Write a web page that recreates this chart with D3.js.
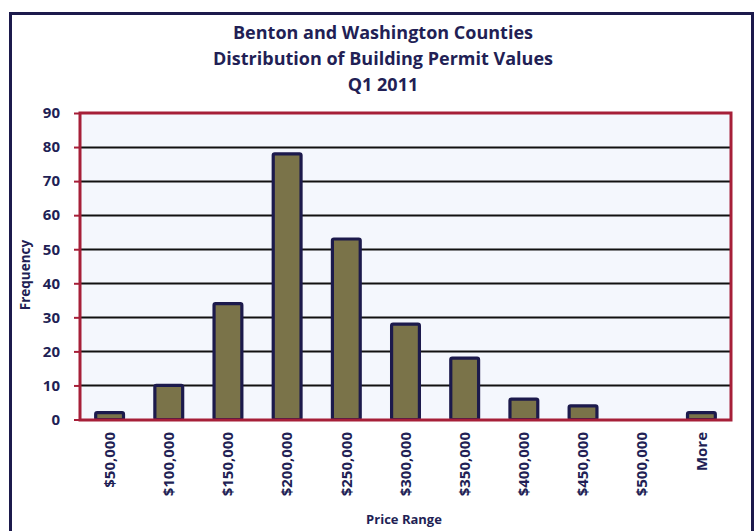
<!DOCTYPE html>
<html>
<head>
<meta charset="utf-8">
<script src="https://cdn.jsdelivr.net/npm/d3@7"></script>
<style>
  html, body { margin: 0; padding: 0; background: #fff; }
  svg { display: block; }
  text { font-family: "Open Sans", sans-serif; font-weight: bold; fill: #221f55; }
</style>
</head>
<body>
<svg id="chart" width="754" height="531"></svg>
<script>
const categories = ["$50,000", "$100,000", "$150,000", "$200,000", "$250,000", "$300,000", "$350,000", "$400,000", "$450,000", "$500,000", "More"];
const frequency = [2, 10, 34, 78, 53, 28, 18, 6, 4, 0, 2];
const yTicks = [0, 10, 20, 30, 40, 50, 60, 70, 80, 90];
const titleLines = ["Benton and Washington Counties", "Distribution of Building Permit Values", "Q1 2011"];

const FONT = "'Open Sans', sans-serif";
const svg = d3.select("#chart");
const W = 754, H = 531;
const plot = { left: 80, right: 731, top: 113, bottom: 420 };

// outer frame
svg.append("rect").attr("x", 0).attr("y", 0).attr("width", W).attr("height", H).attr("fill", "#fff");
svg.append("path")
  .attr("d", `M10.5,${H} V13.5 H752.5 V${H}`)
  .attr("fill", "none").attr("stroke", "#1c1a4c").attr("stroke-width", 3);
svg.append("line").attr("x1", 752.5).attr("x2", 752.5).attr("y1", 13).attr("y2", H)
  .attr("stroke", "#1c1a4c").attr("stroke-width", 1.5);

// title
svg.append("g").selectAll("text").data(titleLines).join("text")
  .attr("x", 383).attr("y", (d, i) => 39 + i * 26)
  .attr("text-anchor", "middle").attr("font-size", 18)
  .text(d => d);

const x = d3.scaleBand().domain(categories).range([plot.left, plot.right]).paddingInner(0.53).paddingOuter(0.265);
const y = d3.scaleLinear().domain([0, 90]).range([plot.bottom - 0.5, plot.top]);

// plot background
svg.append("rect").attr("x", plot.left).attr("y", plot.top)
  .attr("width", plot.right - plot.left).attr("height", plot.bottom - plot.top)
  .attr("fill", "#f4f7fd");

// gridlines
svg.append("g").selectAll("line").data(yTicks.filter(t => t > 0 && t < 90)).join("line")
  .attr("x1", plot.left).attr("x2", plot.right)
  .attr("y1", d => Math.round(y(d)) + 0.5).attr("y2", d => Math.round(y(d)) + 0.5)
  .attr("stroke", "#111").attr("stroke-width", 1.8);

// bars
svg.append("g").selectAll("rect").data(categories.map((c, i) => ({ c, v: frequency[i] })).filter(d => d.v > 0)).join("rect")
  .attr("x", d => x(d.c)).attr("width", x.bandwidth())
  .attr("y", d => y(d.v)).attr("height", d => y(0) - y(d.v))
  .attr("rx", 1.5)
  .attr("fill", "#7a7349").attr("stroke", "#1c1a4c").attr("stroke-width", 3.2);

// plot border
svg.append("rect").attr("x", plot.left).attr("y", plot.top)
  .attr("width", plot.right - plot.left).attr("height", plot.bottom - plot.top)
  .attr("fill", "none").attr("stroke", "#a61f38").attr("stroke-width", 3);

// y axis
const yAxis = d3.axisLeft(y).tickValues(yTicks).tickSize(6).tickPadding(14);
const gy = svg.append("g").attr("transform", `translate(${plot.left},0)`).call(yAxis);
gy.select(".domain").remove();
gy.selectAll(".tick line").attr("stroke", "#a61f38").attr("stroke-width", 2);
gy.selectAll(".tick text").attr("font-size", 15).attr("font-family", FONT).attr("font-weight", "bold").attr("fill", "#221f55");

// x axis labels
const xAxis = d3.axisBottom(x).tickSize(0).tickPadding(0);
const gx = svg.append("g").attr("transform", `translate(0,${plot.bottom})`).call(xAxis);
gx.select(".domain").remove();
gx.selectAll(".tick text")
  .attr("font-size", 15).attr("font-family", FONT).attr("font-weight", "bold").attr("fill", "#221f55")
  .attr("transform", "rotate(-90)")
  .attr("x", -12).attr("y", 0).attr("dy", "0.35em")
  .attr("text-anchor", "end");

// axis titles
svg.append("text").attr("transform", "translate(30,275) rotate(-90)")
  .attr("text-anchor", "middle").attr("font-size", 13.5).text("Frequency");
svg.append("text").attr("x", 404).attr("y", 524)
  .attr("text-anchor", "middle").attr("font-size", 13).text("Price Range");
</script>
</body>
</html>
